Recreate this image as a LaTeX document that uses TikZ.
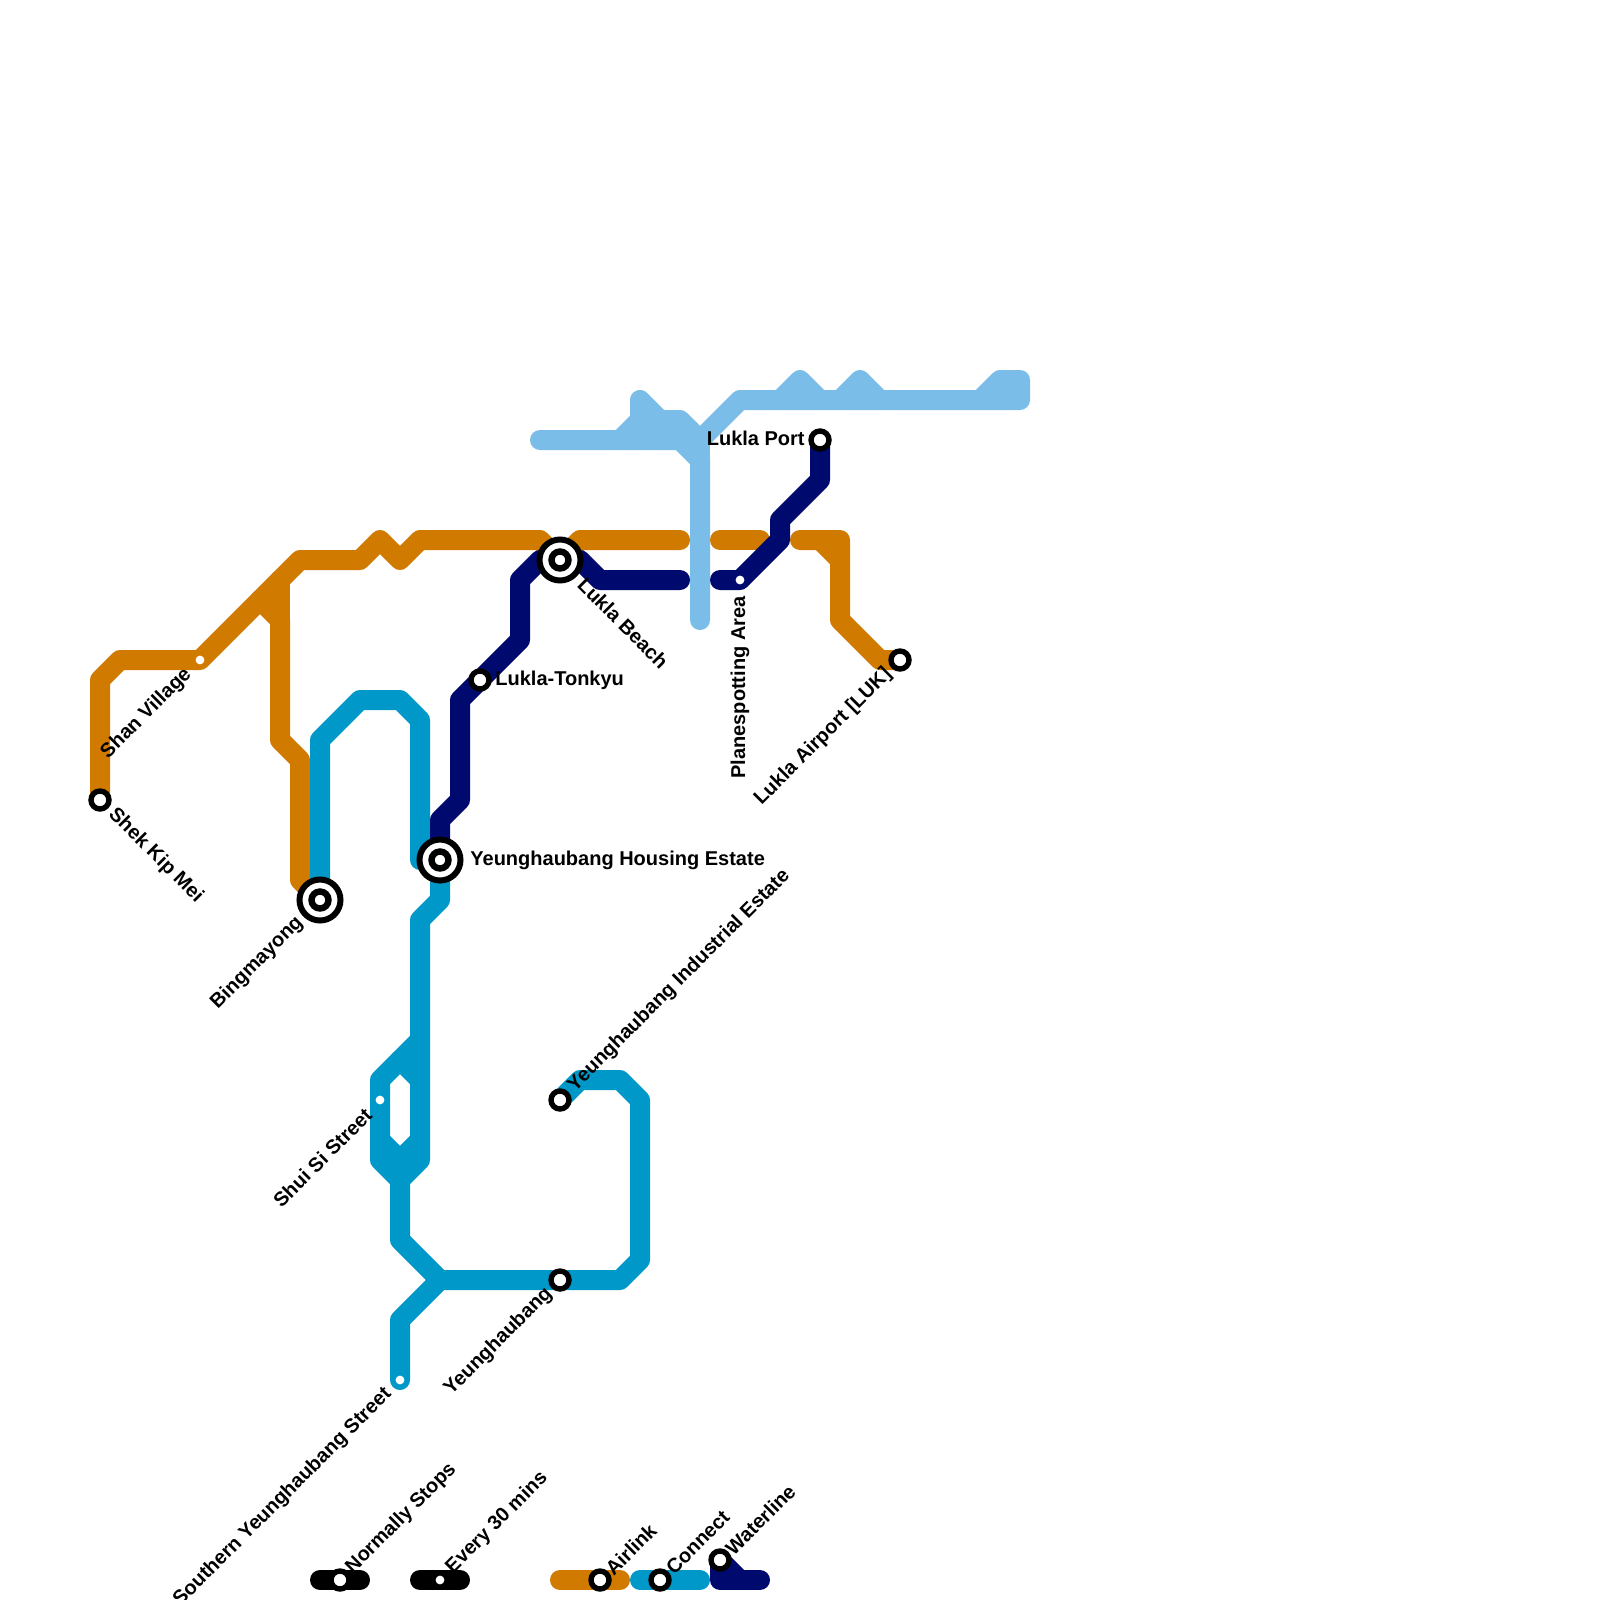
\documentclass[tikz,border=0pt]{standalone}
\usepackage{fontspec}
\setmainfont{Liberation Sans}
\definecolor{cOrange}{HTML}{D07A00}
\definecolor{cBlue}{HTML}{0098C8}
\definecolor{cSky}{HTML}{7ABDE9}
\definecolor{cNavy}{HTML}{000A6E}
\tikzset{
  metro/.style={line width=10pt,line cap=round,line join=round},
  plainstn/.style={circle,draw=black,fill=white,line width=2.7pt,minimum size=9pt,inner sep=0pt},
  bigstn/.style={circle,draw=black,fill=white,line width=3pt,minimum size=20.5pt,inner sep=0pt},
  innerstn/.style={circle,draw=black,fill=white,line width=3.2pt,minimum size=8.5pt,inner sep=0pt},
  smallstn/.style={circle,fill=white,draw=none,minimum size=4.4pt,inner sep=0pt},
  lbl/.style={font=\bfseries\fontsize{10}{12}\selectfont,text=black,inner ysep=0pt,inner xsep=#1},
  lbl/.default=8pt
}
\begin{document}
\begin{tikzpicture}[x=0.5pt,y=-0.5pt]
\useasboundingbox (0,0) rectangle (1600,1600);
\fill[white] (0,0) rectangle (1600,1600);
% station positions
\coordinate (shek) at (100,800);
\coordinate (shan) at (200,660);
\coordinate (bing) at (320,900);
\coordinate (hous) at (440,860);
\coordinate (tonk) at (480,680);
\coordinate (beach) at (560,560);
\coordinate (plane) at (740,580);
\coordinate (port) at (820,440);
\coordinate (air) at (900,660);
\coordinate (shui) at (380,1100);
\coordinate (ind) at (560,1100);
\coordinate (yeung) at (560,1280);
\coordinate (south) at (400,1380);
\coordinate (lgA) at (340,1580);
\coordinate (lgB) at (440,1580);
\coordinate (lgC) at (600,1580);
\coordinate (lgD) at (660,1580);
\coordinate (lgE) at (720,1560);
% sky line
\draw[metro,cSky] (540,440) -- (680,440) -- (700,460) -- (700,620);
\draw[metro,cSky] (620,440) -- (640,420);
\draw[metro,cSky] (640,440) -- (640,400) -- (660,420) -- (680,420) -- (700,440) -- (740,400) -- (1020,400) -- (1020,380) -- (1000,380) -- (980,400);
\draw[metro,cSky] (780,400) -- (800,380) -- (820,400);
\draw[metro,cSky] (840,400) -- (860,380) -- (880,400);
\draw[metro,cSky] (640,430) -- (690,430);
\draw[metro,cSky] (700,440) -- (700,460);
% orange line
\draw[metro,cOrange] (shek) -- (100,680) -- (120,660) -- (shan) -- (300,560) -- (360,560) -- (380,540) -- (400,560) -- (420,540) -- (540,540) -- (beach) -- (580,540) -- (680,540);
\draw[metro,cOrange] (260,600) -- (280,620) -- (280,740) -- (300,760) -- (300,880) -- (bing);
\draw[metro,cOrange] (280,580) -- (280,620);
\draw[metro,cOrange] (720,540) -- (760,540);
\draw[metro,cOrange] (800,540) -- (840,540) -- (840,620) -- (880,660) -- (air);
\draw[metro,cOrange] (820,540) -- (840,560);
% blue line
\draw[metro,cBlue] (bing) -- (320,740) -- (360,700) -- (400,700) -- (420,720) -- (420,860) -- (hous) -- (440,900) -- (420,920) -- (420,1160) -- (400,1180) -- (380,1160) -- (380,1080) -- (420,1040);
\draw[metro,cBlue] (400,1060) -- (420,1080);
\draw[metro,cBlue] (380,1140) -- (400,1160) -- (420,1140);
\draw[metro,cBlue] (400,1180) -- (400,1240) -- (440,1280) -- (yeung) -- (620,1280) -- (640,1260) -- (640,1100) -- (620,1080) -- (580,1080) -- (ind);
\draw[metro,cBlue] (440,1280) -- (400,1320) -- (south);
% navy line
\draw[metro,cNavy] (hous) -- (440,820) -- (460,800) -- (460,700) -- (tonk) -- (520,640) -- (520,580) -- (540,560) -- (beach) -- (580,560) -- (600,580) -- (680,580);
\draw[metro,cNavy] (720,580) -- (plane) -- (780,540) -- (780,520) -- (820,480) -- (port);
% legend bars
\draw[metro,black] (320,1580) -- (360,1580);
\draw[metro,black] (420,1580) -- (460,1580);
\draw[metro,cOrange] (560,1580) -- (620,1580);
\draw[metro,cBlue] (640,1580) -- (700,1580);
\draw[metro,cNavy] (lgE) -- (720,1580) -- (760,1580);
\draw[metro,cNavy] (lgE) -- (740,1580);
% stations
\node[plainstn] (nshek) at (shek) {};
\node[smallstn] (nshan) at (shan) {};
\node[bigstn] (nbing) at (bing) {};
\node[innerstn] (ibing) at (bing) {};
\node[bigstn] (nhous) at (hous) {};
\node[innerstn] (ihous) at (hous) {};
\node[plainstn] (ntonk) at (tonk) {};
\node[bigstn] (nbeach) at (beach) {};
\node[innerstn] (ibeach) at (beach) {};
\node[smallstn] (nplane) at (plane) {};
\node[plainstn] (nport) at (port) {};
\node[plainstn] (nair) at (air) {};
\node[smallstn] (nshui) at (shui) {};
\node[plainstn] (nind) at (ind) {};
\node[plainstn] (nyeung) at (yeung) {};
\node[smallstn] (nsouth) at (south) {};
\node[plainstn] (nlgA) at (lgA) {};
\node[smallstn] (nlgB) at (lgB) {};
\node[plainstn] (nlgC) at (lgC) {};
\node[plainstn] (nlgD) at (lgD) {};
\node[plainstn] (nlgE) at (lgE) {};
% labels
\node[lbl,rotate=-45,anchor=west] (tshek) at (shek) {Shek Kip Mei};
\node[lbl,rotate=45,anchor=east] (tshan) at (shan) {Shan Village};
\node[lbl=14pt,rotate=45,anchor=east] (tbing) at (bing) {Bingmayong};
\node[lbl=15pt,anchor=west] (thous) at (hous) {Yeunghaubang Housing Estate};
\node[lbl=7.5pt,anchor=west] (ttonk) at (tonk) {Lukla-Tonkyu};
\node[lbl=15pt,rotate=-45,anchor=west] (tbeach) at (beach) {Lukla Beach};
\node[lbl,rotate=90,anchor=east] (tplane) at (plane) {Planespotting Area};
\node[lbl=7.5pt,anchor=east,yshift=1pt] (tport) at (port) {Lukla Port};
\node[lbl,rotate=45,anchor=east] (tair) at (air) {Lukla Airport [LUK]};
\node[lbl,rotate=45,anchor=east] (tshui) at (shui) {Shui Si Street};
\node[lbl,rotate=45,anchor=west] (tind) at (ind) {Yeunghaubang Industrial Estate};
\node[lbl=7.5pt,rotate=45,anchor=east] (tyeung) at (yeung) {Yeunghaubang};
\node[lbl,rotate=45,anchor=east] (tsouth) at (south) {Southern Yeunghaubang Street};
\node[lbl=6.5pt,rotate=45,anchor=west] (tlgA) at (lgA) {Normally Stops};
\node[lbl=6.5pt,rotate=45,anchor=west] (tlgB) at (lgB) {Every 30 mins};
\node[lbl=6pt,rotate=45,anchor=west] (tlgC) at (lgC) {Airlink};
\node[lbl=6.5pt,rotate=45,anchor=west] (tlgD) at (lgD) {Connect};
\node[lbl=6pt,rotate=45,anchor=west] (tlgE) at (lgE) {Waterline};
\end{tikzpicture}
\end{document}
